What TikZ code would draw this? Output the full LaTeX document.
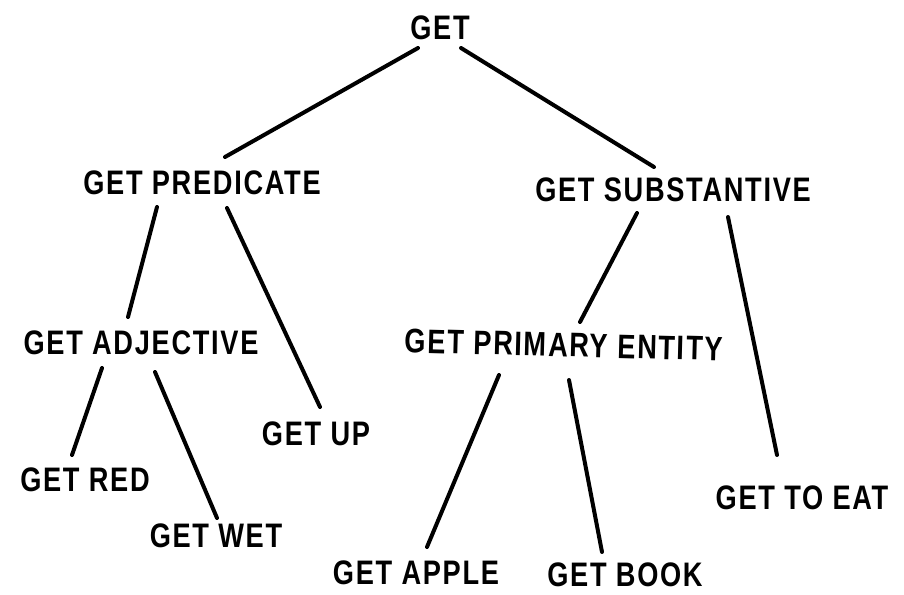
\documentclass[tikz,border=0pt]{standalone}
\usepackage{fontspec}
\setmainfont{Liberation Sans}[FakeStretch=0.8,LetterSpace=5]
\begin{document}
\begin{tikzpicture}[x=1pt,y=-1pt,
  lbl/.style={font=\fontsize{34}{34}\selectfont\bfseries, inner sep=0pt, anchor=center},
  conn/.style={line width=4pt, line cap=round}]
\useasboundingbox (0,0) rectangle (904,594);
\node[lbl] (get) at (440,28) {GET};
\node[lbl] (pred) at (202,183) {GET PREDICATE};
\node[lbl] (subst) at (673,190) {GET SUBSTANTIVE};
\node[lbl] (adj) at (141,343) {GET ADJECTIVE};
\node[lbl] (up) at (316,434) {GET UP};
\node[lbl, rotate=-1.5] (prim) at (564,345) {GET PRIMARY ENTITY};
\node[lbl] (red) at (85,480) {GET RED};
\node[lbl] (wet) at (216,536) {GET WET};
\node[lbl] (apple) at (416,573) {GET APPLE};
\node[lbl] (book) at (625,575) {GET BOOK};
\node[lbl] (eat) at (802,498) {GET TO EAT};
% connector end points
\coordinate (get-l) at (418,48);
\coordinate (get-r) at (461,48);
\coordinate (pred-t) at (225,157);
\coordinate (subst-t) at (654,167);
\coordinate (pred-l) at (157,207);
\coordinate (pred-r) at (227,208);
\coordinate (adj-t) at (128,317);
\coordinate (up-t) at (320,407);
\coordinate (subst-l) at (637,213);
\coordinate (subst-r) at (728,217);
\coordinate (prim-t) at (580,322);
\coordinate (eat-t) at (777,455);
\coordinate (adj-l) at (102,368);
\coordinate (adj-r) at (155,372);
\coordinate (red-t) at (72,455);
\coordinate (wet-t) at (217,518);
\coordinate (prim-l) at (499,375);
\coordinate (prim-r) at (569,380);
\coordinate (apple-t) at (427,547);
\coordinate (book-t) at (602,552);
\draw[conn] (get-l) -- (pred-t);
\draw[conn] (get-r) -- (subst-t);
\draw[conn] (pred-l) -- (adj-t);
\draw[conn] (pred-r) -- (up-t);
\draw[conn] (subst-l) -- (prim-t);
\draw[conn] (subst-r) -- (eat-t);
\draw[conn] (adj-l) -- (red-t);
\draw[conn] (adj-r) -- (wet-t);
\draw[conn] (prim-l) -- (apple-t);
\draw[conn] (prim-r) -- (book-t);
\end{tikzpicture}
\end{document}
